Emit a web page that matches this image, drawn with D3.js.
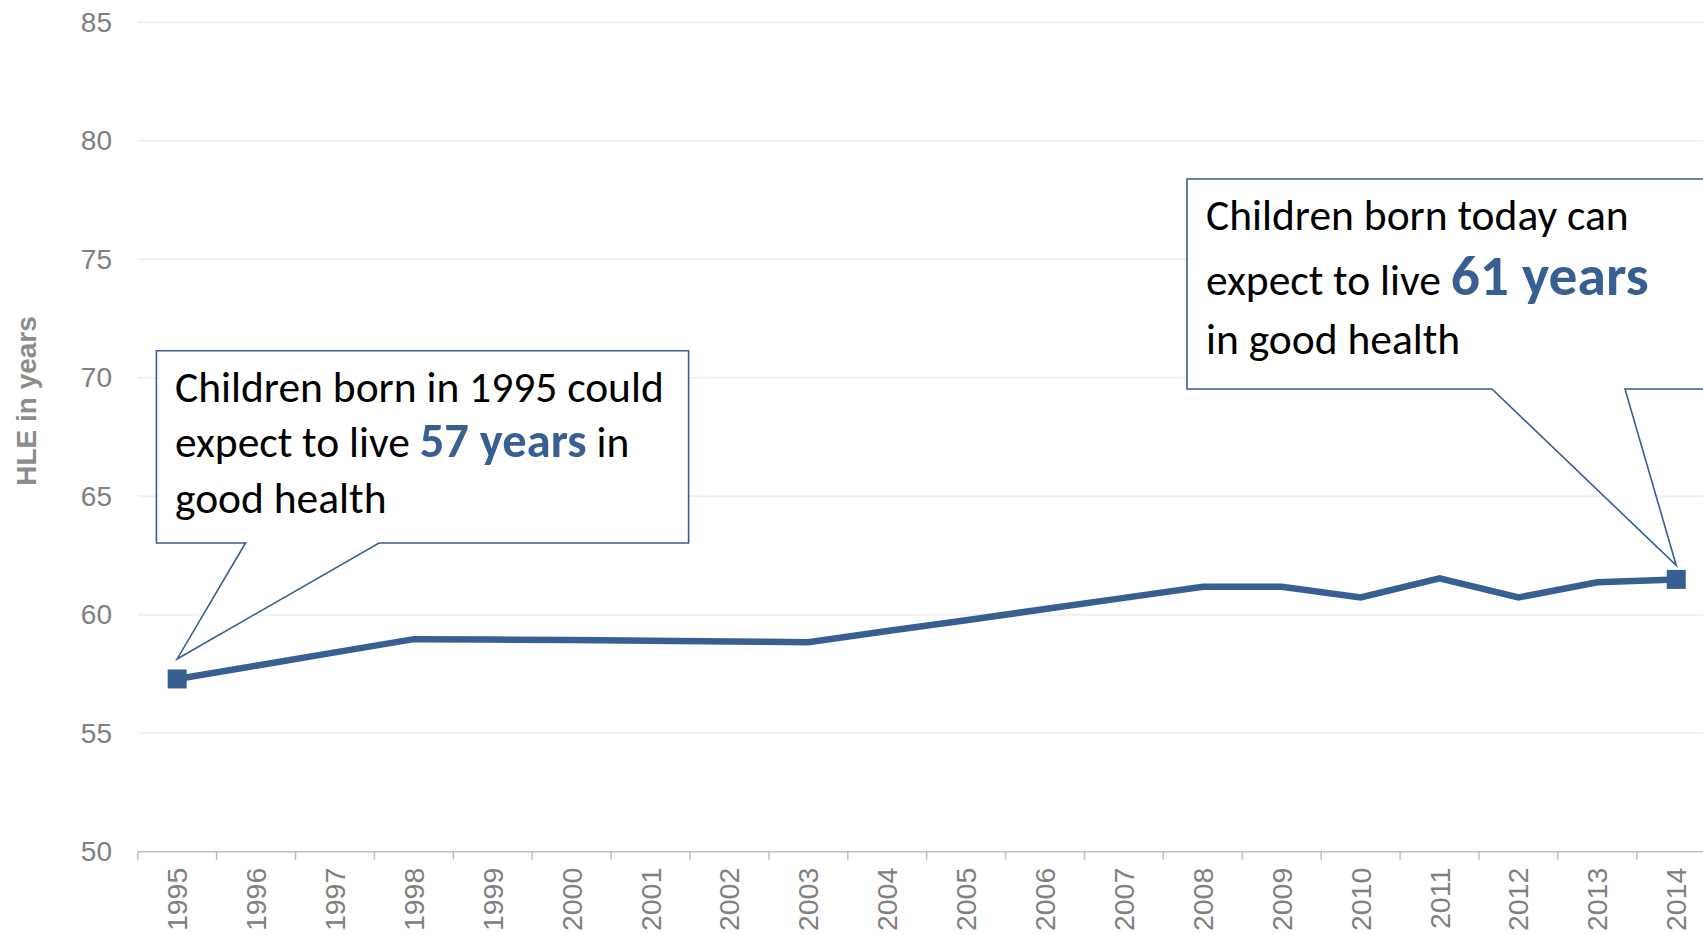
<!DOCTYPE html>
<html>
<head>
<meta charset="utf-8">
<script src="https://cdn.jsdelivr.net/npm/d3@7/dist/d3.min.js"></script>
<style>
  html, body { margin: 0; padding: 0; background: #ffffff; overflow: hidden; }
  svg { display: block; }
</style>
</head>
<body>
<svg id="chart" width="1703" height="935"></svg>
<script>
// Healthy life expectancy (HLE) at birth, by year of birth
const years = ["1995","1996","1997","1998","1999","2000","2001","2002","2003","2004",
               "2005","2006","2007","2008","2009","2010","2011","2012","2013","2014"];
const hle = [57.29, 57.85, 58.41, 58.97, 58.95, 58.93, 58.90, 58.87, 58.84, 59.31,
             59.77, 60.24, 60.71, 61.18, 61.18, 60.73, 61.54, 60.73, 61.37, 61.49];
const yTicks = [50, 55, 60, 65, 70, 75, 80, 85];
const yTitle = "HLE in years";

// Callout wording: [text, highlighted?] pieces per line
const firstNote = [
  [["Children born in 1995 could", false]],
  [["expect to live ", false], ["57 years", true], [" in", false]],
  [["good health", false]]
];
const lastNote = [
  [["Children born today can", false]],
  [["expect to live ", false], ["61 years", true]],
  [["in good health", false]]
];

const W = 1703, H = 935;
const BLUE = "#375f92";
const AXIS_FONT = "'Liberation Sans', Arial, sans-serif";
const NOTE_FONT = "Carlito, Lato, 'Open Sans', sans-serif";

const svg = d3.select("#chart");

const x = d3.scaleBand().domain(years).range([137.7, 1715.7]).padding(0);
const y = d3.scaleLinear().domain([50, 85]).range([851.7, 22.3]);
const cx = d => x(d) + x.bandwidth() / 2;

// Horizontal gridlines
svg.append("g")
  .selectAll("line")
  .data(yTicks.filter(t => t > 50))
  .join("line")
  .attr("x1", x.range()[0]).attr("x2", x.range()[1])
  .attr("y1", d => y(d)).attr("y2", d => y(d))
  .attr("stroke", "#efefef").attr("stroke-width", 2);

// Y axis labels (no axis line)
const yAxis = svg.append("g")
  .attr("transform", "translate(126,0)")
  .call(d3.axisLeft(y).tickValues(yTicks).tickSize(0).tickPadding(14));
yAxis.select(".domain").remove();
yAxis.selectAll("text")
  .attr("font-family", AXIS_FONT).attr("font-size", 28).attr("fill", "#808080");

svg.append("text")
  .attr("transform", `translate(36,401) rotate(-90)`)
  .attr("text-anchor", "middle")
  .attr("font-family", AXIS_FONT).attr("font-size", 28).attr("font-weight", "bold")
  .attr("fill", "#8c8c8c")
  .text(yTitle);

// X axis: baseline with ticks between categories
const xg = svg.append("g").attr("transform", `translate(0,${y(50)})`);
xg.append("line")
  .attr("x1", x.range()[0]).attr("x2", x.range()[1])
  .attr("stroke", "#bfbfbf").attr("stroke-width", 1.5);
xg.selectAll("line.tick")
  .data(years)
  .join("line").attr("class", "tick")
  .attr("x1", d => x(d)).attr("x2", d => x(d))
  .attr("y1", 0).attr("y2", 8)
  .attr("stroke", "#bfbfbf").attr("stroke-width", 1.5);
xg.selectAll("text")
  .data(years)
  .join("text")
  .attr("transform", d => `translate(${cx(d)},16) rotate(-90)`)
  .attr("text-anchor", "end")
  .attr("dy", "0.35em")
  .attr("font-family", AXIS_FONT).attr("font-size", 28.5).attr("fill", "#808080")
  .text(d => d);

// Callouts: white box with a pointer ending just above a data point
function callout(box, base, tipYear, tipGap, lines, textX, baselines, sizes) {
  const tx = cx(tipYear);
  const ty = y(hle[years.indexOf(tipYear)]) - tipGap;
  const p = d3.path();
  p.moveTo(box.x0, box.y0);
  p.lineTo(box.x1, box.y0);
  p.lineTo(box.x1, box.y1);
  p.lineTo(base[1], box.y1);
  p.lineTo(tx, ty);
  p.lineTo(base[0], box.y1);
  p.lineTo(box.x0, box.y1);
  p.closePath();
  const g = svg.append("g");
  g.append("path").attr("d", p.toString())
    .attr("fill", "#ffffff").attr("stroke", BLUE).attr("stroke-width", 1.6)
    .attr("stroke-linejoin", "miter");
  const t = g.append("text").attr("font-family", NOTE_FONT).attr("fill", "#000000");
  lines.forEach((parts, i) => {
    parts.forEach(([str, strong], j) => {
      const ts = t.append("tspan").text(str)
        .attr("font-size", strong ? sizes.strong : sizes.normal)
        .attr("font-weight", strong ? "bold" : "normal")
        .attr("fill", strong ? BLUE : "#000000")
        .attr("xml:space", "preserve");
      if (j === 0) ts.attr("x", textX).attr("y", baselines[i]);
    });
  });
}

callout({x0: 156.4, y0: 350.8, x1: 688.6, y1: 543}, [245.5, 379], "1995", 20,
        firstNote, 175, [402, 457, 513], {normal: 43.5, strong: 48.5});
callout({x0: 1187, y0: 179, x1: 1780, y1: 389}, [1492, 1625], "2014", 14,
        lastNote, 1206, [230, 295, 354], {normal: 43.5, strong: 57.5});

// Series line
svg.append("path")
  .datum(hle)
  .attr("fill", "none")
  .attr("stroke", BLUE).attr("stroke-width", 6.5)
  .attr("stroke-linejoin", "miter")
  .attr("d", d3.line().x((d, i) => cx(years[i])).y(d => y(d)));

// End-point markers
const ends = [0, years.length - 1];
svg.selectAll("rect.marker")
  .data(ends)
  .join("rect").attr("class", "marker")
  .attr("x", i => cx(years[i]) - 9.5).attr("y", i => y(hle[i]) - 9.5)
  .attr("width", 19).attr("height", 19)
  .attr("fill", BLUE);
</script>
</body>
</html>
